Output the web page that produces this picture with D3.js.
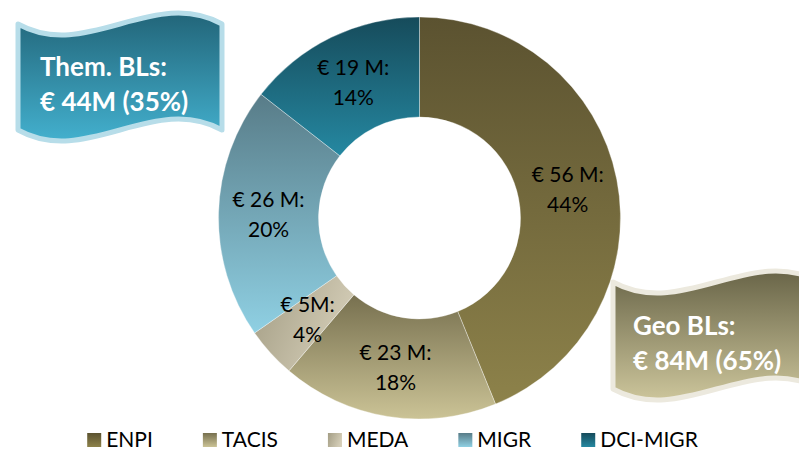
<!DOCTYPE html>
<html lang="en">
<head>
    <meta charset="UTF-8">
    <title>Budget lines donut</title>
    <script src="https://d3js.org/d3.v7.min.js"></script>
    <style>
        body { margin: 0; background: #fff; }
        svg text { font-family: 'Lato', 'Open Sans', sans-serif; }
    </style>
</head>
<body>
    <div id="container"></div>
    <script>
        // data
        const categories = ['ENPI', 'TACIS', 'MEDA', 'MIGR', 'DCI-MIGR'];
        const amounts = [56.1, 22.3, 5.2, 25.9, 18.5];
        const amountLabels = ['€ 56 M:', '€ 23 M:', '€ 5M:', '€ 26 M:', '€ 19 M:'];
        const shareLabels = ['44%', '18%', '4%', '20%', '14%'];
        const groupTitles = ['Them. BLs:', 'Geo BLs:'];
        const groupTotals = ['€ 44M (35%)', '€ 84M (65%)'];

        // colours (top -> bottom of each slice)
        const topColors = ['#5b5230', '#77704f', '#a39d84', '#587c88', '#164b5b'];
        const bottomColors = ['#8d824a', '#cbc396', '#d3ccb6', '#8fd0e3', '#2588a1'];

        const width = 799, height = 451;
        const cx = 419.5, cy = 218;
        const outerR = 201, innerR = 101;

        const svg = d3.select('#container').append('svg')
            .attr('width', width).attr('height', height);
        const defs = svg.append('defs');

        categories.forEach((c, i) => {
            const g = defs.append('linearGradient').attr('id', 'grad' + i)
                .attr('x1', 0).attr('y1', 0)
                .attr('x2', i === 2 ? 1 : 0).attr('y2', i === 2 ? 0.4 : 1);
            g.append('stop').attr('offset', '0%').attr('stop-color', topColors[i]);
            g.append('stop').attr('offset', '100%').attr('stop-color', bottomColors[i]);
        });

        // banner gradients
        const bannerTop = ['#226579', '#696548'];
        const bannerBottom = ['#43b0ce', '#ccc59b'];
        const bannerStroke = ['#b7dde9', '#ece9de'];
        groupTitles.forEach((t, i) => {
            const g = defs.append('linearGradient').attr('id', 'bgrad' + i)
                .attr('x1', 0).attr('y1', 0).attr('x2', 0).attr('y2', 1);
            g.append('stop').attr('offset', '0%').attr('stop-color', bannerTop[i]);
            g.append('stop').attr('offset', '100%').attr('stop-color', bannerBottom[i]);
        });

        // donut
        const pie = d3.pie().sort(null).value(d => d);
        const arc = d3.arc().innerRadius(innerR).outerRadius(outerR);
        const arcs = pie(amounts);

        const chart = svg.append('g').attr('transform', `translate(${cx},${cy})`);
        chart.selectAll('path.slice').data(arcs).enter().append('path')
            .attr('class', 'slice')
            .attr('d', arc)
            .attr('fill', (d, i) => `url(#grad${i})`)
            .attr('stroke', 'rgba(255,255,255,0.35)')
            .attr('stroke-width', 1);

        const labels = chart.selectAll('text.lbl').data(arcs).enter().append('text')
            .attr('class', 'lbl')
            .attr('text-anchor', 'middle')
            .attr('font-size', 21)
            .attr('fill', '#000')
            .attr('transform', d => `translate(${arc.centroid(d)})`);
        labels.append('tspan').attr('x', 0).attr('y', -7).text((d, i) => amountLabels[i]);
        labels.append('tspan').attr('x', 0).attr('y', 23).text((d, i) => shareLabels[i]);

        // wavy banners
        function wavePath(x, y, w, h, k) {
            return `M${x},${y} C${x + w / 3},${y + k} ${x + 2 * w / 3},${y - k} ${x + w},${y}` +
                ` L${x + w},${y + h}` +
                ` C${x + 2 * w / 3},${y + h - k} ${x + w / 3},${y + h + k} ${x},${y + h} Z`;
        }
        const banners = [
            {x: 18, y: 24, w: 204, h: 106, tx: 40, ty: 76},
            {x: 613, y: 282, w: 207, h: 107, tx: 633, ty: 335}
        ];
        banners.forEach((b, i) => {
            svg.append('path')
                .attr('d', wavePath(b.x, b.y, b.w, b.h, 38))
                .attr('fill', `url(#bgrad${i})`)
                .attr('stroke', bannerStroke[i])
                .attr('stroke-width', 5)
                .attr('stroke-linejoin', 'round');
            const t = svg.append('text')
                .attr('font-size', 26).attr('font-weight', 'bold').attr('fill', '#fff');
            t.append('tspan').attr('x', b.tx).attr('y', b.ty).text(groupTitles[i]);
            t.append('tspan').attr('x', b.tx).attr('y', b.ty + 35).text(groupTotals[i]);
        });

        // legend
        const legend = svg.append('g');
        const items = legend.selectAll('g').data(categories).enter().append('g');
        items.append('rect').attr('width', 14).attr('height', 14).attr('y', 433)
            .attr('fill', (d, i) => `url(#grad${i})`);
        items.append('text').attr('x', 19).attr('y', 447).attr('font-size', 21)
            .attr('fill', '#000').text(d => d);
        let pos = 0;
        const offsets = [];
        items.each(function () {
            offsets.push(pos);
            pos += 19 + d3.select(this).select('text').node().getComputedTextLength() + 50;
        });
        const total = pos - 50;
        const start = 392.5 - total / 2;
        items.attr('transform', (d, i) => `translate(${start + offsets[i]},0)`);
    </script>
</body>
</html>
